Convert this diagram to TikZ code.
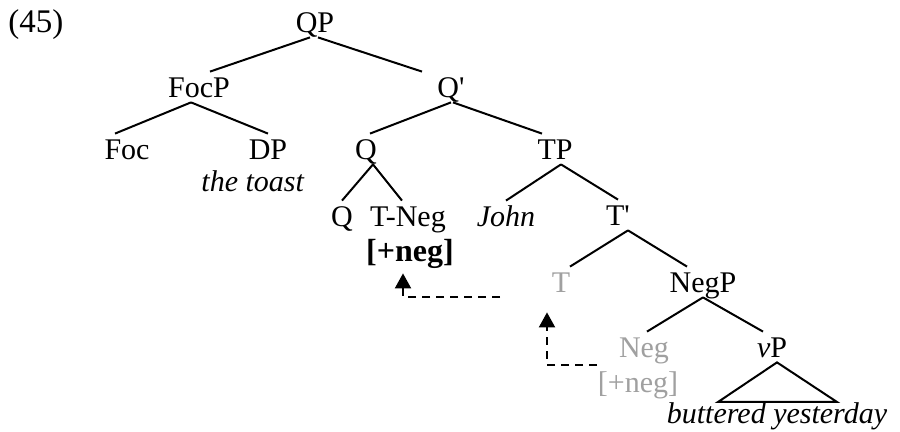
\documentclass[tikz,border=0pt]{standalone}
\usepackage{fontspec}
\setmainfont{Liberation Serif}
\usetikzlibrary{arrows.meta}
\definecolor{tracegray}{RGB}{160,160,160}

\begin{document}
\begin{tikzpicture}[
    x=0.5pt, y=-0.5pt,
    cat/.style={anchor=base, inner sep=0pt, text height=13pt, text depth=2pt,
                font=\fontsize{15}{18}\selectfont},
    tracecat/.style={cat, text=tracegray},
    branch/.style={line width=1pt},
    movearrow/.style={line width=1pt, dash pattern=on 4pt off 3pt,
                      -{Triangle[length=7.5pt, width=8pt]}}
]
    \useasboundingbox (0,0) rectangle (900,432);

    \node[cat, anchor=base west] (exno) at (8,33) {\fontsize{16.5}{18}\selectfont (45)};

    % upper tree
    \node[cat] (qp)    at (315,33)  {QP};
    \node[cat] (focp)  at (199,98)  {FocP};
    \node[cat] (qbar)  at (451,98)  {Q\textquotesingle};
    \node[cat] (foc)   at (127,160) {Foc};
    \node[cat] (dp)    at (268,160) {DP};
    \node[cat] (toast) at (253,192) {\textit{the toast}};
    \node[cat] (q)     at (366,160) {Q};
    \node[cat] (tp)    at (555,160) {TP};
    \node[cat] (qhead) at (342,227) {Q};
    \node[cat] (tneg)  at (408,227) {T-Neg};
    \node[cat] (negbold) at (410,262) {\fontsize{16}{18}\selectfont\bfseries [+neg]};
    \node[cat] (john)  at (506,227) {\textit{John}};
    \node[cat] (tbar)  at (618,226) {T\textquotesingle};

    % lower tree
    \node[tracecat] (tt)  at (561,293) {T};
    \node[cat] (negp)     at (703,293) {NegP};
    \node[tracecat] (neg) at (644,358) {Neg};
    \node[tracecat] (negfeat) at (638,393) {[+neg]};
    \node[cat] (vp)       at (772,358) {\textit{v}P};
    \node[cat] (vpcont)   at (777,424) {\textit{buttered yesterday}};

    \draw[branch] ([xshift=-2.5pt]qp.south) -- ([xshift=5.5pt]focp.north);
    \draw[branch] ([xshift=1.5pt]qp.south)  -- ([xshift=-14.5pt]qbar.north);
    \draw[branch] ([xshift=-4pt]focp.south) -- ([xshift=-6pt]foc.north);
    \draw[branch] ([xshift=-4pt]focp.south) -- (dp.north);
    \draw[branch] (qbar.south) -- ([xshift=2pt]q.north);
    \draw[branch] ([xshift=1pt]qbar.south) -- ([xshift=-6.5pt]tp.north);
    \draw[branch] ([xshift=3.5pt]q.south) -- (qhead.north);
    \draw[branch] ([xshift=3.5pt]q.south) -- ([xshift=-3pt]tneg.north);
    \draw[branch] ([xshift=3pt]tp.south) -- (john.north);
    \draw[branch] ([xshift=3pt]tp.south) -- (tbar.north);
    \draw[branch] ([xshift=5pt]tbar.south) -- ([xshift=4.5pt]tt.north);
    \draw[branch] ([xshift=5pt]tbar.south) -- ([xshift=-8pt]negp.north);
    \draw[branch] (negp.south) -- ([xshift=1.5pt]neg.north);
    \draw[branch] (negp.south) -- ([xshift=-4.5pt]vp.north);

    % roof over vP
    \coordinate (roofl) at (718,402);
    \coordinate (roofr) at (837,402);
    \draw[branch] ([xshift=2.5pt]vp.south) -- (roofl) -- (roofr) -- cycle;

    % head movement
    \coordinate (mvstart1) at (500,297);
    \coordinate (mvstart2) at (597,365);
    \draw[movearrow] (mvstart1) -| ([xshift=-3.5pt,yshift=-3.5pt]negbold.south);
    \draw[movearrow] (mvstart2) -| ([xshift=-7pt,yshift=-7.5pt]tt.south);
\end{tikzpicture}
\end{document}
